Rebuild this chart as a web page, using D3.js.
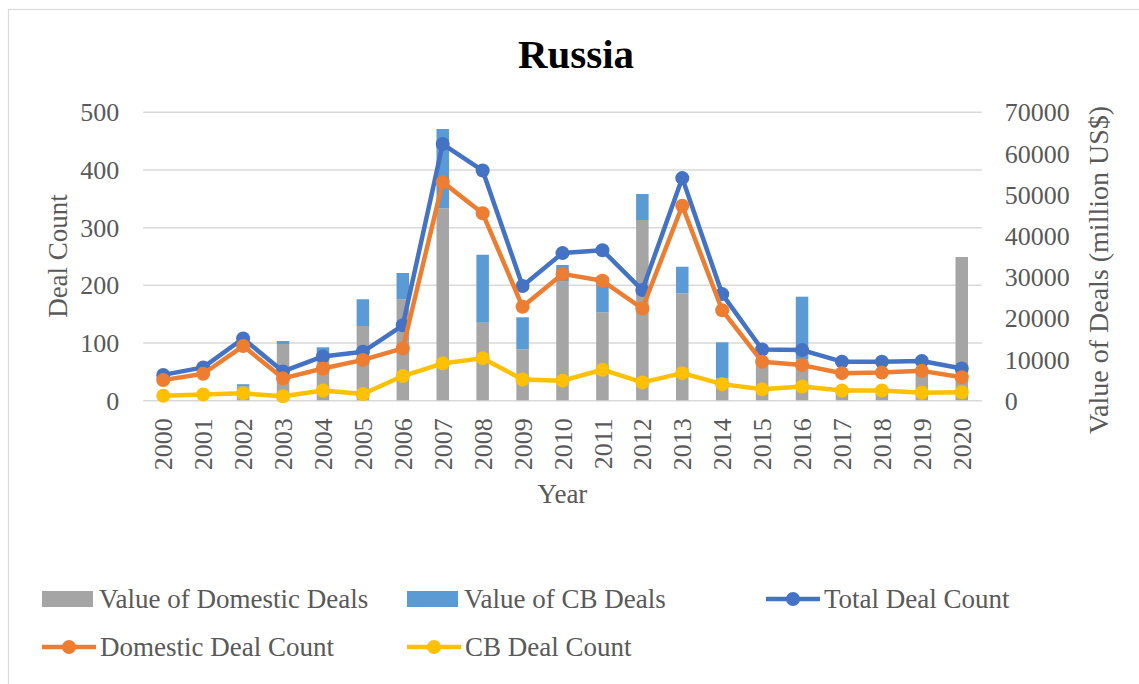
<!DOCTYPE html>
<html>
<head>
<meta charset="utf-8">
<script src="https://cdn.jsdelivr.net/npm/d3@7"></script>
<style>
  html, body { margin: 0; padding: 0; background: #fff; }
  svg { display: block; }
  text { font-family: "Liberation Serif", "Times New Roman", serif; fill: #595959; }
</style>
</head>
<body>
<svg id="chart" width="1139" height="684"></svg>
<script>
// Years on the category axis
const years = ["2000","2001","2002","2003","2004","2005","2006","2007","2008","2009","2010",
               "2011","2012","2013","2014","2015","2016","2017","2018","2019","2020"];

// Deal values, million US$ (right axis)
const domesticValue = [0, 0, 3300, 13650, 11470, 18020, 24500, 46570, 18820, 12370, 28770,
                       21340, 43730, 25950, 5340, 9000, 10000, 2500, 3000, 7500, 34760];
const cbValue = [0, 0, 600, 730, 1380, 6480, 6380, 19230, 16490, 7760, 4050,
                 8660, 6310, 6450, 8730, 0, 15130, 0, 0, 0, 0];

// Deal counts (left axis)
const totalCount = [44, 57, 107, 50, 76, 84, 130, 444, 398, 198, 255,
                    260, 191, 385, 184, 88, 87, 67, 67, 68, 55];
const domesticCount = [35, 46, 94, 38, 55, 70, 90, 378, 324, 162, 219,
                       207, 159, 337, 156, 67, 61, 47, 48, 51, 40];
const cbCount = [8, 10, 12, 7, 17, 11, 42, 64, 73, 36, 34,
                 53, 31, 47, 28, 19, 24, 17, 17, 13, 14];

// Tick labels
const leftTicks = [0, 100, 200, 300, 400, 500];
const rightTicks = [0, 10000, 20000, 30000, 40000, 50000, 60000, 70000];

const svg = d3.select("#chart");

const plot = { left: 143.3, right: 981.7, top: 111.7, bottom: 400.3 };

const x = d3.scaleBand().domain(years).range([plot.left, plot.right]).padding(0);
const yL = d3.scaleLinear().domain([0, 500]).range([plot.bottom, plot.top]);
const yR = d3.scaleLinear().domain([0, 70000]).range([plot.bottom, plot.top]);
const cx = d => x(d) + x.bandwidth() / 2;

// chart frame
svg.append("rect")
  .attr("x", 8.5).attr("y", 9.5).attr("width", 1140).attr("height", 690)
  .attr("fill", "none").attr("stroke", "#d9d9d9").attr("stroke-width", 1.2);

// title
svg.append("text")
  .attr("x", 576).attr("y", 68).attr("text-anchor", "middle")
  .style("font-size", "41px").style("font-weight", "bold").style("fill", "#000")
  .text("Russia");

// gridlines from the left axis
const yAxisL = d3.axisLeft(yL).tickValues(leftTicks).tickSize(-(plot.right - plot.left)).tickPadding(24);
const gL = svg.append("g").attr("transform", `translate(${plot.left},0)`).call(yAxisL);
gL.select(".domain").remove();
gL.selectAll(".tick line").attr("stroke", "#d9d9d9").attr("stroke-width", 1.5);
gL.selectAll(".tick text").style("font-size", "26px").style("fill", "#595959")
  .attr("dy", "0.35em");

// right axis labels
const yAxisR = d3.axisRight(yR).tickValues(rightTicks).tickSize(0).tickPadding(23).tickFormat(d3.format("d"));
const gR = svg.append("g").attr("transform", `translate(${plot.right},0)`).call(yAxisR);
gR.select(".domain").remove();
gR.selectAll(".tick text").style("font-size", "26px").style("fill", "#595959")
  .attr("dy", "0.35em");

// stacked value bars
const barW = 12.5;
const bars = svg.append("g");
years.forEach((yr, i) => {
  const d0 = domesticValue[i], c0 = cbValue[i];
  if (d0 > 0) {
    bars.append("rect")
      .attr("x", cx(yr) - barW / 2).attr("width", barW)
      .attr("y", yR(d0)).attr("height", yR(0) - yR(d0))
      .attr("fill", "#a5a5a5");
  }
  if (c0 > 0) {
    bars.append("rect")
      .attr("x", cx(yr) - barW / 2).attr("width", barW)
      .attr("y", yR(d0 + c0)).attr("height", yR(d0) - yR(d0 + c0))
      .attr("fill", "#5b9bd5");
  }
});

// category axis labels
const xAxis = d3.axisBottom(x).tickSize(0).tickPadding(0);
const gX = svg.append("g").attr("transform", `translate(0,${plot.bottom})`).call(xAxis);
gX.select(".domain").remove();
gX.selectAll(".tick text")
  .style("font-size", "26px").style("fill", "#595959")
  .attr("text-anchor", "end")
  .attr("transform", "translate(0,18) rotate(-90)")
  .attr("x", 0).attr("y", 0).attr("dy", "0.35em");

// count lines
const seriesLines = [
  { values: totalCount, color: "#4472c4" },
  { values: domesticCount, color: "#ed7d31" },
  { values: cbCount, color: "#ffc000" }
];
const line = d3.line().x(d => cx(d.yr)).y(d => yL(d.v));
seriesLines.forEach(s => {
  const pts = years.map((yr, i) => ({ yr, v: s.values[i] }));
  const g = svg.append("g");
  g.append("path").datum(pts).attr("d", line)
    .attr("fill", "none").attr("stroke", s.color).attr("stroke-width", 4.5)
    .attr("stroke-linejoin", "round");
  g.selectAll("circle").data(pts).join("circle")
    .attr("cx", d => cx(d.yr)).attr("cy", d => yL(d.v)).attr("r", 7)
    .attr("fill", s.color);
});

// axis titles
svg.append("text")
  .attr("transform", `translate(58,${(plot.top + plot.bottom) / 2}) rotate(-90)`)
  .attr("text-anchor", "middle").attr("dy", "0.35em")
  .style("font-size", "27px").text("Deal Count");
svg.append("text")
  .attr("transform", `translate(1098,${(plot.top + plot.bottom) / 2 + 14}) rotate(-90)`)
  .attr("text-anchor", "middle").attr("dy", "0.35em")
  .style("font-size", "28px").text("Value of Deals (million US$)");
svg.append("text")
  .attr("x", (plot.left + plot.right) / 2).attr("y", 494)
  .attr("text-anchor", "middle").attr("dy", "0.35em")
  .style("font-size", "27px").text("Year");

// legend
const legendItems = [
  { label: "Value of Domestic Deals", color: "#a5a5a5", type: "bar", x: 42, y: 599 },
  { label: "Value of CB Deals", color: "#5b9bd5", type: "bar", x: 407, y: 599 },
  { label: "Total Deal Count", color: "#4472c4", type: "line", x: 766, y: 599 },
  { label: "Domestic Deal Count", color: "#ed7d31", type: "line", x: 42, y: 647 },
  { label: "CB Deal Count", color: "#ffc000", type: "line", x: 407, y: 647 }
];
const lg = svg.append("g");
legendItems.forEach(it => {
  if (it.type === "bar") {
    lg.append("rect").attr("x", it.x).attr("y", it.y - 8).attr("width", 51).attr("height", 16)
      .attr("fill", it.color);
  } else {
    lg.append("line").attr("x1", it.x).attr("x2", it.x + 54).attr("y1", it.y).attr("y2", it.y)
      .attr("stroke", it.color).attr("stroke-width", 4.5);
    lg.append("circle").attr("cx", it.x + 27).attr("cy", it.y).attr("r", 7).attr("fill", it.color);
  }
  lg.append("text").attr("x", it.x + (it.type === "bar" ? 57 : 58)).attr("y", it.y).attr("dy", "0.35em")
    .style("font-size", "27px").text(it.label);
});
</script>
</body>
</html>
